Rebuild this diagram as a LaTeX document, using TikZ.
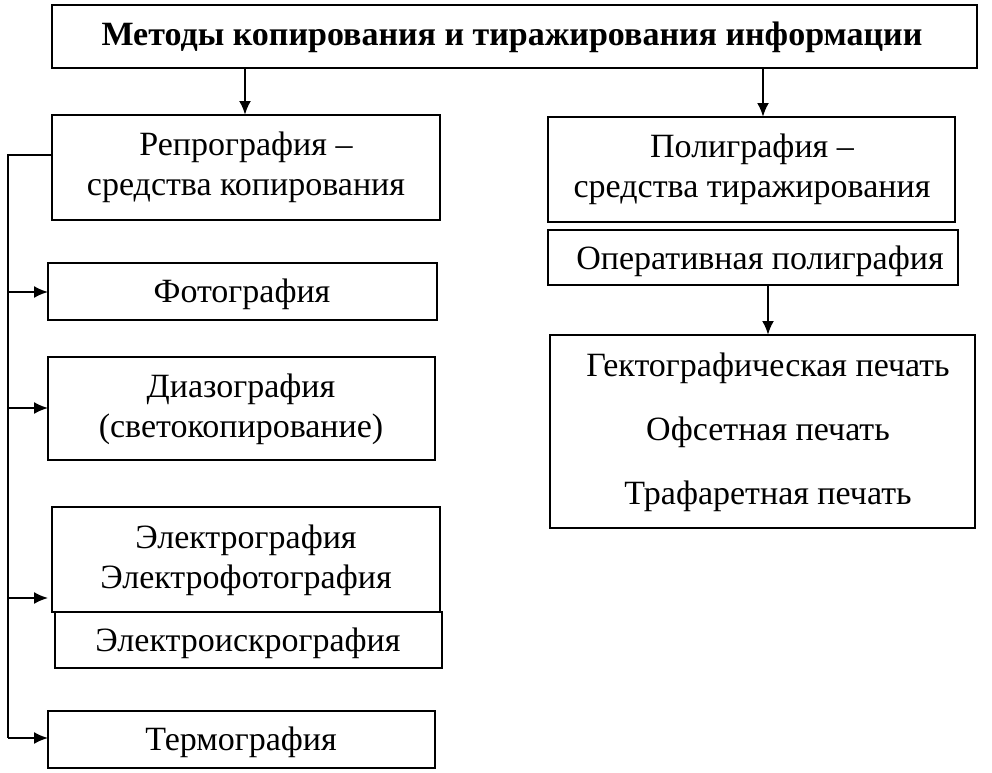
\documentclass[tikz,border=0pt]{standalone}
\usepackage{fontspec}
\setmainfont{Liberation Serif}
\usetikzlibrary{arrows.meta}
\begin{document}
\begin{tikzpicture}[x=1pt,y=-1pt,
  bx/.style={draw,line width=1.3pt},
  tx/.style={font=\fontsize{34}{40}\selectfont,align=center},
  ar/.style={-{Latex[length=14pt,width=12pt]},line width=2.5pt}]
\useasboundingbox (0,0) rectangle (992,772);
\draw[bx] (52,5) rectangle (977,68);
\node[tx,font=\fontsize{34}{40}\selectfont\bfseries] (t) at (512,37) {Методы копирования и тиражирования информации};
\draw[bx] (52,115) rectangle (440,220);
\node[tx] (r) at (246,167) {Репрография –\\средства копирования};
\draw[bx] (548,117) rectangle (955,222);
\node[tx] (p) at (752,169) {Полиграфия –\\средства тиражирования};
\draw[bx] (548,230) rectangle (958,285);
\node[tx] (o) at (760,261) {Оперативная полиграфия};
\draw[bx] (550,335) rectangle (975,528);
\node[tx,align=center,font=\fontsize{34}{64}\selectfont] (pr) at (768,432) {Гектографическая печать\\Офсетная печать\\Трафаретная печать};
\draw[bx] (48,263) rectangle (437,320);
\node[tx] (f) at (242,294) {Фотография};
\draw[bx] (48,357) rectangle (435,460);
\node[tx] (d) at (241,409) {Диазография\\(светокопирование)};
\draw[bx] (52,507) rectangle (440,612);
\node[tx] (e) at (246,560) {Электрография\\Электрофотография};
\draw[bx] (55,612) rectangle (442,668);
\node[tx] (ei) at (248,643) {Электроискрография};
\draw[bx] (48,711) rectangle (435,768);
\node[tx] (tg) at (241,742) {Термография};
\coordinate (a1) at (245,68); \coordinate (a1e) at (245,115);
\coordinate (a2) at (763,68); \coordinate (a2e) at (763,117);
\draw[ar] (a1) -- (a1e);
\draw[ar] (a2) -- (a2e);
\coordinate (o1) at (768,285); \coordinate (o2) at (768,335);
\draw[ar] (o1) -- (o2);
\draw[line width=1.3pt] (52,155) -- (8,155) -- (8,738);
\foreach \y in {292,408,598,738} \draw[ar,line width=1.8pt] (8,\y) -- (48,\y);
\end{tikzpicture}
\end{document}
